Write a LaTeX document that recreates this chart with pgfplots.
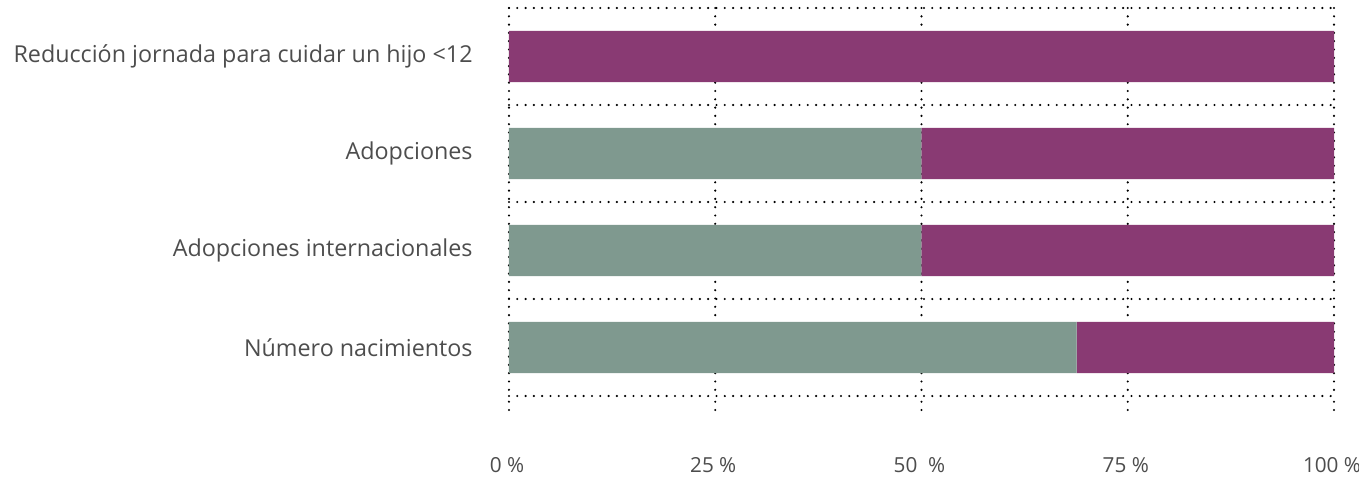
\documentclass[border=0pt]{standalone}
\usepackage{fontspec}
\setmainfont{Open Sans}
\usepackage{pgfplots}
\pgfplotsset{compat=1.18}
\definecolor{cgreen}{RGB}{127,153,143}
\definecolor{cpurple}{RGB}{137,58,115}
\definecolor{ctext}{RGB}{77,77,77}
\begin{document}
\begin{tikzpicture}
\useasboundingbox (-254.5bp,-45bp) rectangle (425bp,198bp);
\begin{axis}[
  scale only axis,
  width=412.5bp, height=194bp,
  xbar stacked,
  bar width=0.53,
  xmin=0, xmax=100,
  ymin=0.5, ymax=4.5,
  y dir=reverse,
  axis line style={draw=none},
  xtick={0,25,50,75,100},
  xticklabels={0 \%,25 \%,50\ \ \%,75 \%,100 \%},
  ytick={1,2,3,4},
  yticklabels={Reducción jornada para cuidar un hijo <12,Adopciones,Adopciones internacionales,Número nacimientos},
  minor ytick={0.5,1.5,2.5,3.5,4.5},
  xmajorgrids, yminorgrids,
  grid style={black, line width=1.2bp, line cap=round, dash pattern=on 0pt off 4.15bp},
  minor grid style={black, line width=1.2bp, line cap=round, dash pattern=on 0pt off 4.15bp},
  tick pos=lower,
  xtick align=outside,
  major x tick style={black, line width=1.2bp, line cap=round, dash pattern=on 0pt off 4.15bp},
  major tick length=7bp,
  y tick style={draw=none},
  minor y tick style={draw=none},
  ticklabel style={text=ctext},
  yticklabel style={font=\fontsize{11.7}{14}\selectfont, anchor=east, inner sep=0pt, xshift=-18bp},
  xticklabel style={font=\fontsize{10.4}{12}\selectfont, anchor=center, inner sep=0pt, yshift=-27.5bp, xshift=-1bp},
  clip=false,
]
\addplot[fill=cgreen, draw=none] coordinates {(0,1) (50,2) (50,3) (68.8,4)};
\addplot[fill=cpurple, draw=none] coordinates {(100,1) (50,2) (50,3) (31.2,4)};
\end{axis}
\end{tikzpicture}
\end{document}
